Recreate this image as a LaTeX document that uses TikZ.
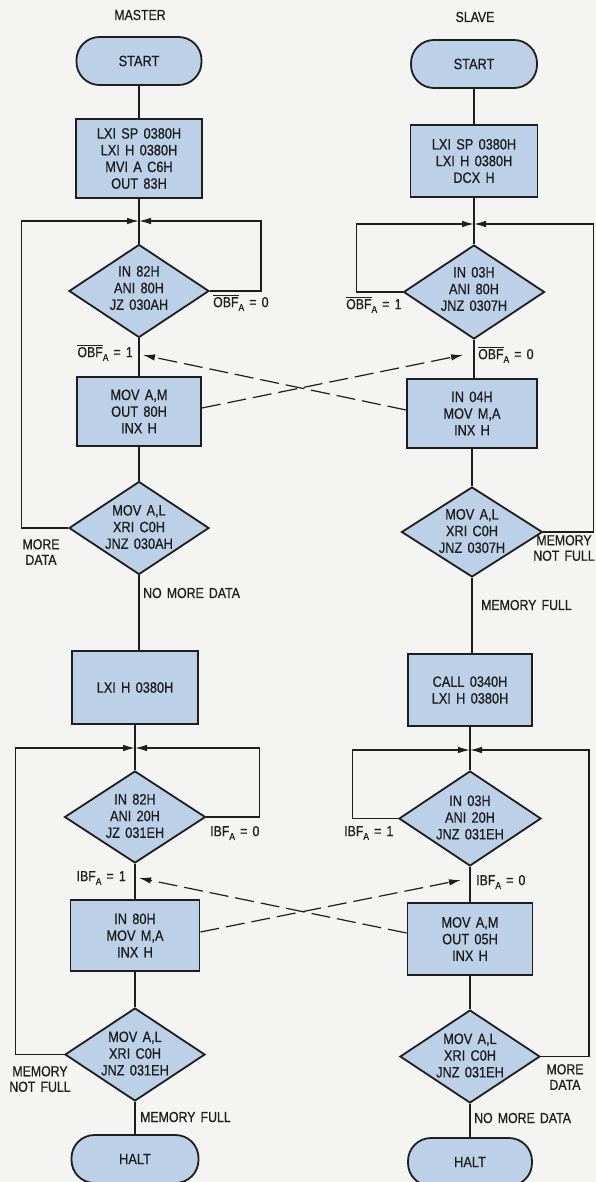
\documentclass[tikz,border=0pt]{standalone}
\usepackage{fontspec}
\setmainfont{Liberation Sans}[FakeStretch=0.85, WordSpace=1.5, FakeBold=0.7]
\usetikzlibrary{shapes.geometric,arrows.meta}
\definecolor{boxfill}{HTML}{BCD0E8}
\definecolor{ink}{HTML}{1E1E1E}
\definecolor{paper}{HTML}{F4F4F2}
\newcommand{\subA}{\raisebox{-0.5ex}{\fontsize{10}{10}\selectfont A}}
\newcommand{\obfbar}{$\overline{\hbox{OBF}}$\subA}
\newcommand{\ibfA}{IBF\subA}
\begin{document}
\begin{tikzpicture}[x=1pt,y=-1pt,
  every node/.style={font=\fontsize{15}{16.7}\selectfont, text=ink},
  proc/.style={draw=ink, line width=1.8pt, fill=boxfill, rectangle, inner sep=0pt, align=center},
  term/.style={draw=ink, line width=1.8pt, fill=boxfill, rectangle, rounded corners=23pt, inner sep=0pt, minimum height=48pt},
  dec/.style={draw=ink, line width=1.8pt, fill=boxfill, diamond, inner sep=0pt},
  dtext/.style={align=center, inner sep=0pt},
  lab/.style={font=\fontsize{14.5}{15.5}\selectfont, inner sep=0pt, align=center},
  conn/.style={draw=ink, line width=1.2pt},
  tip/.style={-{Latex[length=12pt,width=6.5pt]}},
  handshake/.style={draw=ink, line width=1.2pt, dash pattern=on 19pt off 7pt}
]
\path[fill=paper] (0,0) rectangle (596,1182);
\useasboundingbox (0,0) rectangle (596,1182);

% ---------------- MASTER ----------------
\node[lab] (mtitle) at (140,15) {MASTER};
\node[term, minimum width=125pt] (mstart) at (139,61) {START};
\node[proc, minimum width=126pt, minimum height=79pt] (mb1) at (139,158.5) {LXI SP 0380H\\LXI H 0380H\\MVI A C6H\\OUT 83H};
\coordinate (mj1) at (139,221);
\node[dec, minimum width=140pt, minimum height=93pt] (md1) at (139,291) {};
\node[dtext, yshift=3pt] (md1t) at (md1) {IN 82H\\ANI 80H\\JZ 030AH};
\node[proc, minimum width=124pt, minimum height=69pt] (mb2) at (139,411.5) {MOV A,M\\OUT 80H\\INX H};
\node[dec, minimum width=140pt, minimum height=93pt] (md2) at (139,528) {};
\node[dtext, yshift=1pt] (md2t) at (md2) {MOV A,L\\XRI C0H\\JNZ 030AH};
\node[proc, minimum width=126pt, minimum height=73pt] (mb3) at (135,687.5) {LXI H 0380H};
\coordinate (mj2) at (135,748);
\node[dec, minimum width=141pt, minimum height=92pt] (md3) at (135,817) {};
\node[dtext, yshift=1pt] (md3t) at (md3) {IN 82H\\ANI 20H\\JZ 031EH};
\node[proc, minimum width=129pt, minimum height=71pt] (mb4) at (135,935.5) {IN 80H\\MOV M,A\\INX H};
\node[dec, minimum width=140pt, minimum height=93pt] (md4) at (135,1054.5) {};
\node[dtext, yshift=1pt] (md4t) at (md4) {MOV A,L\\XRI C0H\\JNZ 031EH};
\node[term, minimum width=127pt] (mhalt) at (135,1159) {HALT};

\draw[conn] (mstart) -- (mb1);
\draw[conn] (mb1) -- (md1);
\draw[conn] (md1) -- (mb2);
\draw[conn] (mb2) -- (md2);
\draw[conn] (md2.south) -- (md2.south |- mb3.north);
\draw[conn] (mb3) -- (md3);
\draw[conn] (md3) -- (mb4);
\draw[conn] (mb4) -- (md4);
\draw[conn] (md4) -- (mhalt);
\draw[conn,tip] (md1.east) -- ++(51,0) |- (mj1);
\draw[conn,tip] (md2.west) -- ++(-47,0) |- (mj1);
\draw[conn,tip] (md3.east) -- ++(53,0) |- (mj2);
\draw[conn,tip] (md4.west) -- ++(-49,0) |- (mj2);

\node[lab, anchor=west] (ml1) at (213,303) {\obfbar{} = 0};
\node[lab, anchor=east] (ml2) at (133,353) {\obfbar{} = 1};
\node[lab] (ml3) at (41,552) {MORE\\DATA};
\node[lab, anchor=west] (ml4) at (143,593) {NO MORE DATA};
\node[lab, anchor=west] (ml5) at (210,833) {\ibfA{} = 0};
\node[lab, anchor=east] (ml6) at (126,878) {\ibfA{} = 1};
\node[lab] (ml7) at (40,1079) {MEMORY\\NOT FULL};
\node[lab, anchor=west] (ml8) at (140,1117) {MEMORY FULL};

% ---------------- SLAVE ----------------
\node[lab] (stitle) at (475,17) {SLAVE};
\node[term, minimum width=126pt] (sstart) at (474,64) {START};
\node[proc, minimum width=127pt, minimum height=72pt] (sb1) at (474,161) {LXI SP 0380H\\LXI H 0380H\\DCX H};
\coordinate (sj1) at (474,224);
\node[dec, minimum width=141pt, minimum height=94pt] (sd1) at (474,292) {};
\node[dtext, yshift=3pt] (sd1t) at (sd1) {IN 03H\\ANI 80H\\JNZ 0307H};
\node[proc, minimum width=130pt, minimum height=69pt] (sb2) at (472,413.5) {IN 04H\\MOV M,A\\INX H};
\node[dec, minimum width=141pt, minimum height=90pt] (sd2) at (472,532) {};
\node[dtext, yshift=1pt] (sd2t) at (sd2) {MOV A,L\\XRI C0H\\JNZ 0307H};
\node[proc, minimum width=124pt, minimum height=72pt] (sb3) at (470,690) {CALL 0340H\\LXI H 0380H};
\coordinate (sj2) at (470,750);
\node[dec, minimum width=142pt, minimum height=95pt] (sd3) at (470,818.5) {};
\node[dtext, yshift=1pt] (sd3t) at (sd3) {IN 03H\\ANI 20H\\JNZ 031EH};
\node[proc, minimum width=125pt, minimum height=72pt] (sb4) at (470,939) {MOV A,M\\OUT 05H\\INX H};
\node[dec, minimum width=140pt, minimum height=93pt] (sd4) at (470,1056.5) {};
\node[dtext, yshift=1pt] (sd4t) at (sd4) {MOV A,L\\XRI C0H\\JNZ 031EH};
\node[term, minimum width=124pt] (shalt) at (470,1162) {HALT};

\draw[conn] (sstart) -- (sb1);
\draw[conn] (sb1) -- (sd1);
\draw[conn] (sd1.south) -- (sd1.south |- sb2.north);
\draw[conn] (sb2) -- (sd2);
\draw[conn] (sd2.south) -- (sd2.south |- sb3.north);
\draw[conn] (sb3) -- (sd3);
\draw[conn] (sd3) -- (sb4);
\draw[conn] (sb4) -- (sd4);
\draw[conn] (sd4) -- (shalt);
\draw[conn,tip] (sd1.west) -- ++(-46,0) |- (sj1);
\draw[conn,tip] (sd2.east) -- ++(50,0) |- (sj1);
\draw[conn,tip] (sd3.west) -- ++(-46,0) |- (sj2);
\draw[conn,tip] (sd4.east) -- ++(48,0) |- (sj2);

\node[lab, anchor=west] (sl1) at (346,305) {\obfbar{} = 1};
\node[lab, anchor=west] (sl2) at (478,355) {\obfbar{} = 0};
\node[lab] (sl3) at (564,548) {MEMORY\\NOT FULL};
\node[lab, anchor=west] (sl4) at (481,605) {MEMORY FULL};
\node[lab, anchor=west] (sl5) at (344,833) {\ibfA{} = 1};
\node[lab, anchor=west] (sl6) at (476,882) {\ibfA{} = 0};
\node[lab] (sl7) at (565,1077) {MORE\\DATA};
\node[lab, anchor=west] (sl8) at (474,1118) {NO MORE DATA};

% ---------------- handshake ----------------
\coordinate (mt1) at (143,355);
\coordinate (st1) at (463,355);
\coordinate (mt2) at (139,878);
\coordinate (st2) at (461,880);
\draw[handshake,tip] ([yshift=3.5pt]sb2.west) -- (mt1);
\draw[handshake,tip] ([yshift=3.5pt]mb2.east) -- (st1);
\draw[handshake,tip] ([yshift=6pt]sb4.west) -- (mt2);
\draw[handshake,tip] ([yshift=3.5pt]mb4.east) -- (st2);
\end{tikzpicture}
\end{document}
